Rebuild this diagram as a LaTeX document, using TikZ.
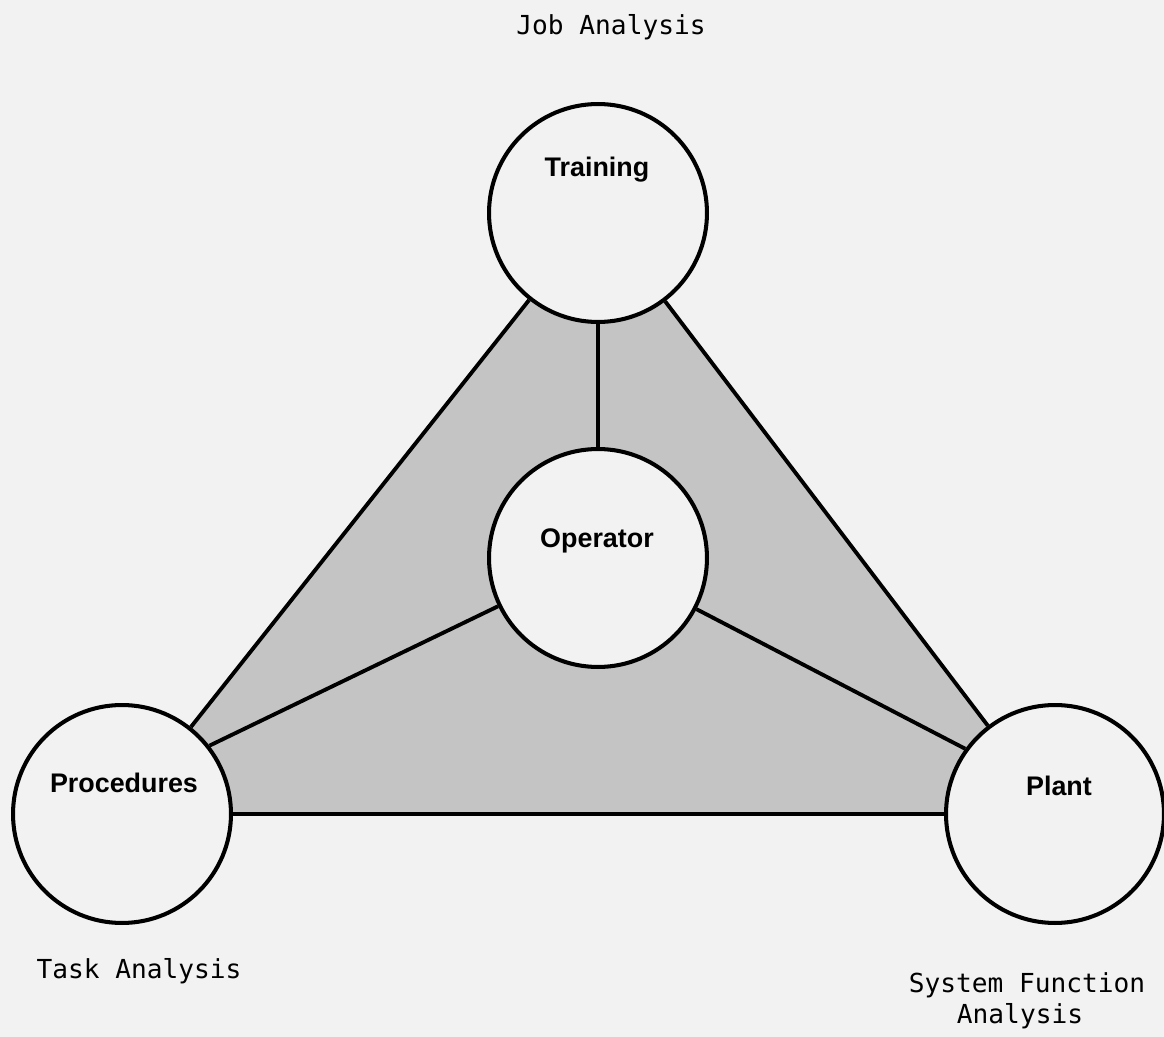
\documentclass[tikz,border=0pt]{standalone}
\usepackage{fontspec}
\newfontfamily\labfont{Liberation Sans}
\newfontfamily\twfont{DejaVu Sans Mono}
\definecolor{paper}{HTML}{F2F2F2}
\definecolor{trigray}{HTML}{C4C4C4}
\tikzset{
  ring/.style={circle, draw=black, line width=2.3pt, fill=paper, minimum size=4.36cm, inner sep=0pt},
  link/.style={line width=2.2pt, draw=black},
  clabel/.style={font=\labfont\bfseries\fontsize{15.3}{18}\selectfont, anchor=base, inner sep=0pt},
  note/.style={font=\twfont\fontsize{14.9}{18}\selectfont, anchor=base, inner sep=0pt}
}
\begin{document}
\begin{tikzpicture}[x=0.02cm, y=-0.02cm]
\useasboundingbox[fill=paper] (0,0) rectangle (1164,1037);
\coordinate (tc) at (598,213);
\coordinate (pc) at (122,814);
\coordinate (lc) at (1055,814);
\fill[fill=trigray] (tc) -- (pc) -- (lc) -- cycle;
\node[ring] (T) at (tc) {};
\node[ring] (O) at (598,558) {};
\node[ring] (P) at (pc) {};
\node[ring] (L) at (lc) {};
\draw[link] (T) -- (P);
\draw[link] (T) -- (L);
\draw[link] (P) -- (L);
\draw[link] (T) -- (O);
\draw[link] (O) -- (P.38);
\draw[link] (O) -- (L.144);
\node[clabel] (tl) at (597,177) {Training};
\node[clabel] (ol) at (597,547) {Operator};
\node[clabel] (pl) at (124,792) {Procedures};
\node[clabel] (ll) at (1059,795) {Plant};
\node[note] (ja) at (611,35) {Job Analysis};
\node[note] (ta) at (139,978) {Task Analysis};
\node[note] (sf) at (1027,992) {System Function};
\node[note] (sa) at (1020,1023) {Analysis};
\end{tikzpicture}
\end{document}
